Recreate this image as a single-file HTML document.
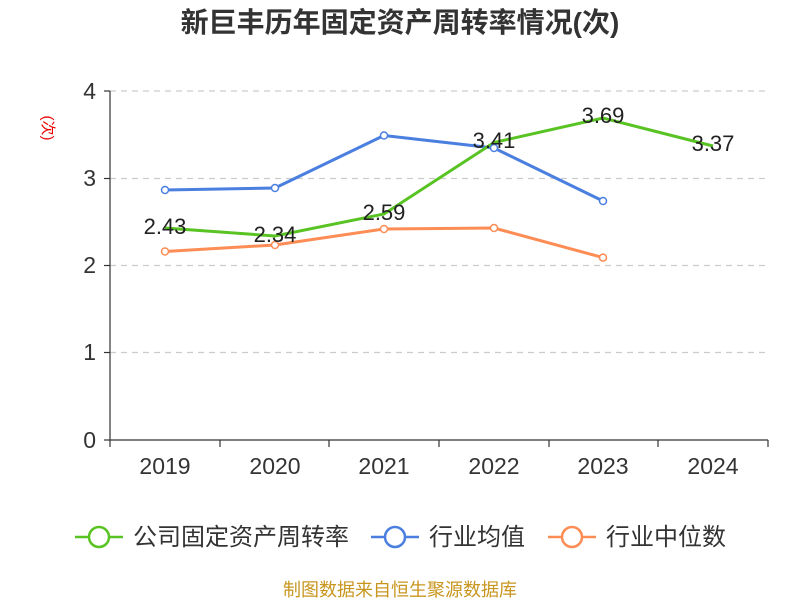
<!DOCTYPE html>
<html><head><meta charset="utf-8"><style>
body{margin:0;background:#fff;}
svg{display:block;font-family:"Liberation Sans","Noto Sans CJK SC",sans-serif;}
</style></head><body>
<svg width="800" height="600" viewBox="0 0 800 600">
<text x="400" y="32" text-anchor="middle" font-size="28" font-weight="bold" fill="#333">新巨丰历年固定资产周转率情况(次)</text>
<text x="0" y="0" transform="translate(43,128) rotate(90)" text-anchor="middle" font-size="15" fill="#e00">(次)</text>
<g stroke="#ccc" stroke-dasharray="6,5" stroke-width="1.2">
<line x1="110" y1="91" x2="768" y2="91"/><line x1="110" y1="178.5" x2="768" y2="178.5"/><line x1="110" y1="265.5" x2="768" y2="265.5"/><line x1="110" y1="352.5" x2="768" y2="352.5"/>
</g>
<g stroke="#333" stroke-width="1.2">
<line x1="110" y1="91" x2="110" y2="440"/><line x1="110" y1="440" x2="768" y2="440"/>
<line x1="104" y1="91" x2="110" y2="91"/><line x1="104" y1="178.5" x2="110" y2="178.5"/><line x1="104" y1="265.5" x2="110" y2="265.5"/><line x1="104" y1="352.5" x2="110" y2="352.5"/><line x1="104" y1="440" x2="110" y2="440"/>
<line x1="110" y1="440" x2="110" y2="447"/><line x1="220" y1="440" x2="220" y2="447"/><line x1="329" y1="440" x2="329" y2="447"/><line x1="439" y1="440" x2="439" y2="447"/><line x1="549" y1="440" x2="549" y2="447"/><line x1="658" y1="440" x2="658" y2="447"/><line x1="768" y1="440" x2="768" y2="447"/>
</g>
<g font-size="23" fill="#333" text-anchor="end">
<text x="96" y="99">4</text><text x="96" y="186">3</text><text x="96" y="273">2</text><text x="96" y="360">1</text><text x="96" y="448">0</text>
</g>
<g font-size="23" fill="#333" text-anchor="middle">
<text x="165" y="474">2019</text><text x="275" y="474">2020</text><text x="384" y="474">2021</text><text x="494" y="474">2022</text><text x="603" y="474">2023</text><text x="713" y="474">2024</text>
</g>
<polyline fill="none" stroke="#4a7fe0" stroke-width="3" stroke-linejoin="round" points="165,190 275,188 384,135.5 494,148 603,201"/>
<polyline fill="none" stroke="#fd8c55" stroke-width="3" points="165,251.5 275,245 384,229 494,228 603,257.6"/>
<polyline fill="none" stroke="#58c322" stroke-width="3" points="165,228 275,236 384,214 494,142.5 603,118 713,146"/>
<g fill="#fff" stroke="#4a7fe0" stroke-width="1.5">
<circle cx="165" cy="190" r="3.5"/><circle cx="275" cy="188" r="3.5"/><circle cx="384" cy="135.5" r="3.5"/><circle cx="494" cy="148" r="3.5"/><circle cx="603" cy="201" r="3.5"/></g>
<g fill="#fff" stroke="#fd8c55" stroke-width="1.5">
<circle cx="165" cy="251.5" r="3.5"/><circle cx="275" cy="245" r="3.5"/><circle cx="384" cy="229" r="3.5"/><circle cx="494" cy="228" r="3.5"/><circle cx="603" cy="257.6" r="3.5"/></g>
<g font-size="22" fill="#222" text-anchor="middle">
<text x="165" y="234">2.43</text><text x="275" y="242">2.34</text><text x="384" y="220">2.59</text><text x="494" y="148">3.41</text><text x="603" y="123">3.69</text><text x="713" y="151">3.37</text>
</g>
<g stroke-width="2.5" fill="#fff">
<line x1="75" y1="537" x2="123" y2="537" stroke="#58c322"/><circle cx="99" cy="537" r="10" stroke="#58c322"/>
<line x1="371" y1="537" x2="419" y2="537" stroke="#4a7fe0"/><circle cx="395" cy="537" r="10" stroke="#4a7fe0"/>
<line x1="548" y1="537" x2="596" y2="537" stroke="#fd8c55"/><circle cx="572" cy="537" r="10" stroke="#fd8c55"/>
</g>
<g font-size="24" fill="#333">
<text x="133" y="545">公司固定资产周转率</text><text x="429" y="545">行业均值</text><text x="606" y="545">行业中位数</text>
</g>
<text x="400" y="596" text-anchor="middle" font-size="18" fill="#c8961e">制图数据来自恒生聚源数据库</text>
</svg>
</body></html>
